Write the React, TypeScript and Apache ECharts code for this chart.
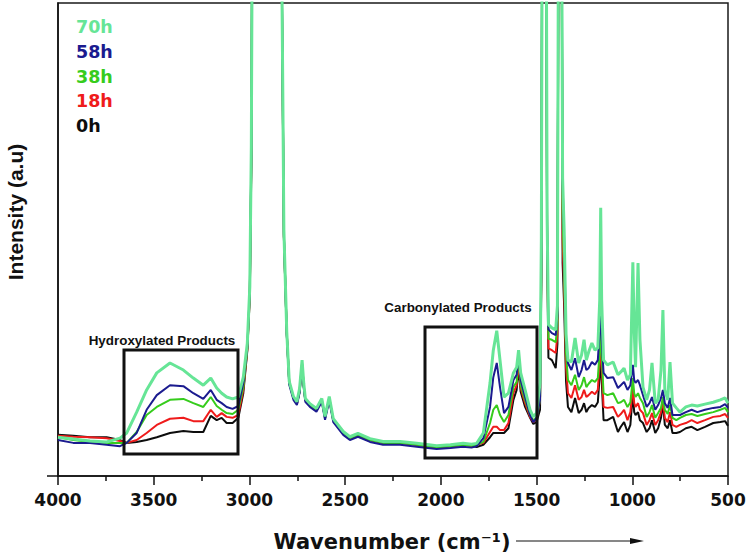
import React, { useEffect, useRef } from "react";
import * as echarts from "echarts";

// Wavenumber grid (cm^-1)
const wavenumbers = [
  4000, 3920, 3833, 3746, 3676, 3641, 3589, 3537, 3484, 3415,
  3345, 3293, 3241, 3202, 3171, 3145, 3119, 3088, 3058, 3032,
  3011, 2998, 2990, 2984, 2900, 2836, 2827, 2820, 2805, 2792,
  2770, 2752, 2738, 2725, 2716, 2708, 2684, 2650, 2622, 2605,
  2583, 2562, 2510, 2475, 2433, 2370, 2302, 2213, 2126, 2022,
  1950, 1884, 1840, 1813, 1778, 1743, 1726, 1708, 1691, 1670,
  1647, 1621, 1604, 1594, 1583, 1560, 1534, 1517, 1500, 1482,
  1475, 1470, 1450, 1445, 1438, 1420, 1400, 1391, 1385, 1370,
  1364, 1356, 1346, 1336, 1318, 1299, 1280, 1265, 1252, 1240,
  1228, 1211, 1195, 1180, 1170, 1165, 1160, 1150, 1130, 1100,
  1075, 1060, 1043, 1025, 1010, 997, 990, 983, 970, 960,
  944, 925, 910, 897, 880, 865, 850, 840, 830, 815,
  803, 790, 770, 751, 720, 690, 660, 620, 577, 540,
  515, 500,
];

const intensity70h = [
  8.2, 7.8, 7.4, 7.2, 8.0, 9.1, 13.5, 18.2, 21.8, 23.9,
  22.4, 20.7, 19.2, 20.7, 18.6, 17.5, 16.7, 16.3, 16.7, 20.9,
  28.1, 40, 70, 130, 130, 130, 88, 52, 30.5, 20.0,
  16.8, 15.7, 18.5, 24.5, 19.5, 16.4, 15.3, 14.3, 16.4, 12.6,
  16.8, 12.1, 9.4, 8.3, 9.0, 7.9, 7.3, 7.3, 6.9, 6.4,
  6.6, 6.9, 6.7, 6.9, 9.1, 19.7, 26.6, 30.7, 24.5, 16.7,
  17.5, 21.8, 23.0, 26.6, 21.8, 18.2, 14.0, 12.5, 13.3, 19.7,
  50, 130, 130, 55, 32, 31.3, 30.9, 36, 130, 130,
  63, 52, 30, 24.5, 24.1, 29.2, 23.9, 25.6, 28.8, 24.5,
  26.2, 28.1, 26.6, 27.1, 37.2, 56.7, 37.2, 24.5, 23.5, 24.1,
  21.4, 22.0, 22.8, 20.3, 21.4, 45.2, 30.9, 23.0, 45.0, 28.8,
  18.8, 16.1, 18.2, 23.9, 15.4, 16.1, 22.4, 35.1, 18.2, 16.1,
  24.1, 15.4, 14.4, 13.5, 14.6, 15.0, 14.8, 15.2, 15.6, 16.1,
  16.5, 15.4,
];

const intensity58h = [
  7.6, 7.0, 7.0, 6.6, 6.3, 7.0, 9.1, 14.0, 17.1, 19.2,
  19.0, 17.5, 16.3, 18.2, 16.1, 15.4, 14.6, 14.2, 14.8, 19.7,
  27.3, 39, 68, 130, 130, 130, 86, 51, 29.8, 19.3,
  16.1, 15.0, 17.6, 23.3, 18.6, 15.7, 14.6, 13.6, 15.7, 11.9,
  16.0, 11.4, 8.7, 7.6, 8.3, 7.2, 6.6, 6.6, 6.2, 5.7,
  5.9, 6.2, 6.0, 6.3, 8.0, 14.6, 20.9, 23.9, 18.8, 13.3,
  14.6, 20.3, 21.4, 26.0, 20.3, 16.7, 12.9, 11.4, 12.3, 16.1,
  46, 130, 130, 53, 31, 30.2, 29.8, 34, 130, 130,
  62, 50, 29, 23.9, 22.4, 24.9, 20.9, 22.4, 24.5, 22.4,
  22.8, 24.1, 23.5, 24.5, 30.9, 37.2, 28.8, 21.8, 20.7, 20.9,
  18.6, 19.2, 19.9, 18.2, 19.2, 23.5, 20.3, 19.7, 20.3, 19.2,
  17.1, 14.6, 15.4, 16.7, 14.0, 15.0, 16.5, 18.2, 15.4, 14.4,
  16.5, 12.9, 12.9, 12.9, 13.5, 14.0, 13.5, 14.0, 14.4, 14.6,
  15.2, 14.4,
];

const intensity38h = [
  8.2, 7.6, 7.2, 7.0, 7.0, 7.0, 9.3, 12.9, 14.6, 16.1,
  16.3, 15.4, 14.6, 16.7, 14.8, 14.0, 13.3, 13.1, 14.0, 18.8,
  27.0, 39, 68, 130, 130, 130, 86, 51, 30.2, 19.7,
  16.5, 15.4, 18.0, 23.9, 19.0, 16.1, 15.0, 14.0, 16.1, 12.3,
  16.5, 11.8, 9.1, 8.0, 8.7, 7.6, 7.0, 7.0, 6.6, 6.1,
  6.3, 6.6, 6.4, 6.6, 7.2, 11.2, 14.0, 15.0, 12.9, 11.4,
  12.9, 18.8, 19.9, 26.2, 19.2, 16.1, 12.9, 11.8, 12.3, 16.1,
  45, 130, 130, 52, 29, 28.8, 28.3, 32, 130, 130,
  55, 44, 26, 20.3, 19.2, 21.4, 18.2, 19.2, 20.9, 18.8,
  19.5, 20.3, 19.9, 20.7, 26.6, 33.0, 25.6, 17.5, 17.1, 17.5,
  15.4, 15.6, 16.1, 14.6, 15.6, 20.7, 17.5, 16.7, 17.5, 16.5,
  15.4, 12.5, 13.5, 15.0, 12.3, 13.3, 14.4, 16.7, 14.0, 13.1,
  15.0, 12.3, 11.8, 12.3, 12.9, 13.1, 12.7, 13.1, 13.5, 14.0,
  14.4, 13.5,
];

const intensity18h = [
  8.5, 8.3, 8.2, 8.0, 7.4, 7.0, 7.6, 9.1, 10.8, 12.1,
  12.3, 11.6, 11.6, 14.0, 12.5, 13.3, 12.5, 12.3, 12.9, 18.2,
  26.8, 38, 67, 130, 130, 130, 85, 50.5, 30.2, 19.7,
  16.5, 15.4, 18.0, 23.7, 19.0, 16.1, 15.0, 14.0, 16.1, 12.3,
  16.5, 11.8, 9.1, 8.0, 8.7, 7.6, 7.0, 7.0, 6.6, 6.1,
  6.3, 6.6, 6.4, 6.6, 7.0, 9.3, 10.4, 10.4, 9.7, 9.7,
  11.2, 17.5, 19.2, 24.1, 18.6, 15.4, 12.5, 11.4, 12.0, 16.1,
  44, 130, 130, 50, 27, 26.6, 26.0, 30, 130, 130,
  50, 40, 23, 17.5, 16.5, 19.2, 16.1, 16.7, 18.2, 16.7,
  17.1, 17.8, 17.3, 18.2, 24.5, 30.2, 23.5, 14.6, 14.4, 14.6,
  12.5, 13.1, 14.0, 11.8, 13.5, 18.8, 15.4, 14.6, 15.4, 14.0,
  13.3, 10.8, 11.8, 13.3, 10.8, 11.8, 13.5, 16.1, 12.3, 11.4,
  13.5, 10.8, 10.4, 10.8, 11.2, 11.8, 11.2, 11.8, 12.5, 12.7,
  13.1, 12.3,
];

const intensity0h = [
  8.7, 8.5, 8.2, 8.2, 7.6, 7.0, 7.2, 7.6, 8.2, 9.1,
  9.5, 9.3, 9.3, 12.7, 11.8, 12.3, 11.2, 11.2, 12.3, 17.5,
  26.5, 38, 66, 130, 130, 130, 85, 50.5, 30.2, 19.7,
  16.5, 15.2, 17.8, 23.5, 18.8, 16.0, 15.0, 14.0, 16.0, 12.3,
  16.3, 11.8, 9.1, 8.0, 8.7, 7.6, 7.0, 7.2, 6.6, 6.1,
  6.3, 6.6, 6.4, 6.1, 6.6, 8.2, 9.1, 9.1, 9.1, 9.1,
  10.1, 16.1, 18.2, 23.0, 17.8, 14.6, 12.3, 11.0, 11.4, 14.0,
  42, 130, 130, 48, 25, 24.5, 22.8, 28, 130, 130,
  45, 36, 20, 14.6, 13.5, 16.5, 13.3, 14.0, 15.4, 13.5,
  14.4, 15.0, 14.6, 15.6, 21.4, 26.6, 20.3, 11.8, 11.8, 12.5,
  9.3, 10.4, 11.4, 9.3, 10.8, 17.5, 13.5, 12.9, 13.5, 11.8,
  11.2, 9.3, 10.1, 11.8, 9.1, 10.1, 12.3, 15.4, 10.8, 10.1,
  11.8, 9.1, 9.1, 9.3, 10.1, 10.4, 9.7, 10.4, 11.2, 11.4,
  11.6, 10.6,
];

const seriesNames = ["0h", "18h", "38h", "58h", "70h"];
const seriesValues = [intensity0h, intensity18h, intensity38h, intensity58h, intensity70h];
const seriesColors = ["#0d0d0d", "#ef1b1b", "#36cc1c", "#1b1b8f", "#66e596"];
const seriesWidths = [2, 2, 2, 2, 3];
const legendOrder = ["70h", "58h", "38h", "18h", "0h"];

const xTitle = "Wavenumber (cm⁻¹)";
const yTitle = "Intensity (a.u)";
const box1Label = "Hydroxylated Products";
const box2Label = "Carbonylated Products";

export default function App() {
  const ref = useRef<HTMLDivElement>(null);

  useEffect(() => {
    if (!ref.current) return;
    const chart = echarts.init(ref.current, undefined, { renderer: "svg" });

    const series = seriesNames.map((name, i) => ({
      name,
      type: "line",
      data: wavenumbers.map((w, k) => [w, seriesValues[i][k]]),
      symbol: "none",
      showSymbol: false,
      clip: true,
      silent: true,
      lineStyle: { color: seriesColors[i], width: seriesWidths[i] },
      itemStyle: { color: seriesColors[i] },
      z: 2 + i,
    }));

    const legendTexts = legendOrder.map((name, i) => {
      const idx = seriesNames.indexOf(name);
      return {
        type: "text",
        x: 76,
        y: 27 + i * 24.8,
        style: {
          text: name,
          fill: seriesColors[idx],
          font: 'bold 17.5px "DejaVu Sans"',
          align: "left",
          verticalAlign: "middle",
          textAlign: "left",
          textVerticalAlign: "middle",
        },
      };
    });

    const labelFont = 'bold 13.4px "Liberation Sans", Arial, sans-serif';

    chart.setOption({
      animation: false,
      backgroundColor: "#ffffff",
      grid: {
        left: 58,
        right: 21,
        top: 3,
        bottom: 77,
        show: true,
        backgroundColor: "#ffffff",
        borderColor: "#1a1a1a",
        borderWidth: 1.5,
        containLabel: false,
      },
      xAxis: {
        type: "value",
        min: 500,
        max: 4000,
        interval: 500,
        inverse: true,
        axisLine: { show: true, lineStyle: { color: "#111", width: 1.5 } },
        axisTick: { show: true, length: 9, lineStyle: { color: "#111", width: 1.5 } },
        minorTick: { show: true, splitNumber: 2, length: 5, lineStyle: { color: "#111", width: 1.5 } },
        splitLine: { show: false },
        minorSplitLine: { show: false },
        axisLabel: {
          margin: 15,
          color: "#111",
          fontFamily: "DejaVu Sans",
          fontWeight: "bold",
          fontSize: 17,
          formatter: (v: number) => String(v),
        },
      },
      yAxis: {
        type: "value",
        min: 0,
        max: 100,
        axisLine: { show: true, lineStyle: { color: "#111", width: 1.5 } },
        axisTick: { show: false },
        axisLabel: { show: false },
        splitLine: { show: false },
      },
      series,
      graphic: [
        {
          type: "line",
          shape: { x1: 47, y1: 476, x2: 58, y2: 476 },
          style: { stroke: "#111", lineWidth: 1.5 },
          z: 100,
        },
        {
          type: "rect",
          shape: { x: 124, y: 350, width: 114, height: 104 },
          style: { fill: "none", stroke: "#111", lineWidth: 3 },
          z: 100,
        },
        {
          type: "rect",
          shape: { x: 425, y: 327, width: 112, height: 131 },
          style: { fill: "none", stroke: "#111", lineWidth: 3 },
          z: 100,
        },
        {
          type: "text",
          x: 162,
          y: 340,
          style: {
            text: box1Label,
            fill: "#111",
            font: labelFont,
            align: "center",
            verticalAlign: "middle",
            textAlign: "center",
            textVerticalAlign: "middle",
          },
          z: 100,
        },
        {
          type: "text",
          x: 458,
          y: 307,
          style: {
            text: box2Label,
            fill: "#111",
            font: labelFont,
            align: "center",
            verticalAlign: "middle",
            textAlign: "center",
            textVerticalAlign: "middle",
          },
          z: 100,
        },
        ...legendTexts,
        {
          type: "text",
          x: 15,
          y: 212,
          rotation: Math.PI / 2,
          style: {
            text: yTitle,
            fill: "#111",
            font: 'bold 21px "Liberation Sans", Arial, sans-serif',
            align: "center",
            verticalAlign: "middle",
            textAlign: "center",
            textVerticalAlign: "middle",
          },
          z: 100,
        },
        {
          type: "text",
          x: 392,
          y: 542,
          style: {
            text: xTitle,
            fill: "#111",
            font: 'bold 21px "DejaVu Sans"',
            align: "center",
            verticalAlign: "middle",
            textAlign: "center",
            textVerticalAlign: "middle",
          },
          z: 100,
        },
        {
          type: "line",
          shape: { x1: 516, y1: 541, x2: 634, y2: 541 },
          style: { stroke: "#111", lineWidth: 1.2 },
          z: 100,
        },
        {
          type: "polygon",
          shape: { points: [[630, 538], [644, 541], [630, 544]] },
          style: { fill: "#111" },
          z: 100,
        },
      ],
    });

    return () => {
      chart.dispose();
    };
  }, []);

  return (
    <div
      ref={ref}
      style={{ position: "fixed", left: 0, top: 0, width: 749, height: 553 }}
    />
  );
}
